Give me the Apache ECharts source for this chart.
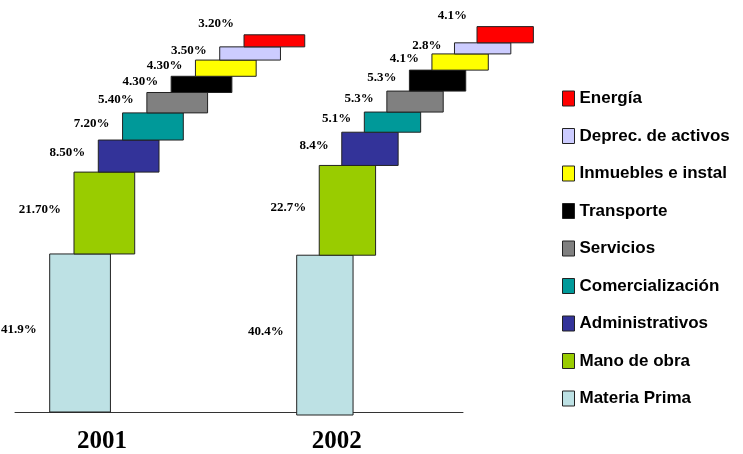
<!DOCTYPE html>
<html>
<head>
<meta charset="utf-8">
<script src="https://cdn.jsdelivr.net/npm/echarts@6/dist/echarts.min.js"></script>
<style>
  html, body { margin: 0; padding: 0; background: #ffffff; }
  #chart { width: 743px; height: 454px; }
</style>
</head>
<body>
<div id="chart"></div>
<script>
// Cost structure by item, share of total (%)
const categories = [
  'Materia Prima', 'Mano de obra', 'Administrativos', 'Comercialización',
  'Servicios', 'Transporte', 'Inmuebles e instal', 'Deprec. de activos', 'Energía'
];
const years = ['2001', '2002'];
const values2001 = [41.9, 21.7, 8.5, 7.2, 5.4, 4.3, 4.3, 3.5, 3.2];
const values2002 = [40.4, 22.7, 8.4, 5.1, 5.3, 5.3, 4.1, 2.8, 4.1];
// decimals shown in each value label
const decimals2001 = [1, 2, 2, 2, 2, 2, 2, 2, 2];
const decimals2002 = [1, 1, 1, 1, 1, 1, 1, 1, 1];

const colors = ['#BDE1E4', '#99CC00', '#333399', '#009999', '#808080',
                '#000000', '#FFFF00', '#CCCCFF', '#FF0000'];

const BLOCK_SPAN = 2.5;   // block width in step units (blocks overlap like stairs)
const LABEL_FONT = 'bold 13px "Liberation Serif", "Times New Roman", serif';

function makeRenderer(labelText, isTop) {
  return function (params, api) {
    const step = api.value(0), lo = api.value(1), hi = api.value(2);
    const a = api.coord([step, lo]);
    const b = api.coord([step + BLOCK_SPAN, hi]);
    const left = a[0], top = b[1], w = b[0] - a[0], h = a[1] - b[1];
    const color = api.visual('color');
    return {
      type: 'group',
      children: [
        {
          type: 'rect',
          shape: { x: left, y: top, width: w, height: h },
          style: { fill: color, stroke: '#222', lineWidth: 1 }
        },
        {
          type: 'text',
          x: isTop ? left - 10 : left - 13,
          y: isTop ? top - 11 : top + h / 2 - 3,
          style: {
            text: labelText, font: LABEL_FONT, fill: '#000',
            align: 'right', verticalAlign: 'middle'
          }
        }
      ]
    };
  };
}

function stairSeries(values, decimals, axisIndex) {
  let base = 0;
  return values.map(function (v, i) {
    const item = [i, base, base + v];
    base += v;
    return {
      type: 'custom',
      name: categories[i],
      xAxisIndex: axisIndex,
      yAxisIndex: axisIndex,
      itemStyle: { color: colors[i], borderColor: '#222', borderWidth: 1 },
      data: [item],
      renderItem: makeRenderer(v.toFixed(decimals[i]) + '%', i === values.length - 1),
      animation: false
    };
  });
}

const yearLabelStyle = {
  fontFamily: '"Liberation Serif", "Times New Roman", serif',
  fontWeight: 'bold',
  fontSize: 25,
  color: '#000'
};

const chart = echarts.init(document.getElementById('chart'), null, { renderer: 'canvas' });
chart.setOption({
  animation: false,
  backgroundColor: '#ffffff',
  grid: [
    { left: 15, width: 448, top: 34.8, height: 382.2 },
    { left: 274.16, width: 259.2, top: 19.5, height: 400.5 }
  ],
  xAxis: [
    {
      gridIndex: 0, type: 'value', min: -1.4286, max: 17.015,
      axisLine: { show: true, lineStyle: { color: '#333', width: 1 } },
      axisTick: { show: false }, splitLine: { show: false },
      axisLabel: Object.assign({
        customValues: [2.15], margin: 17,
        formatter: function () { return years[0]; }
      }, yearLabelStyle)
    },
    {
      gridIndex: 1, type: 'value', min: -1, max: 10.5,
      axisLine: { show: false }, axisTick: { show: false }, splitLine: { show: false },
      axisLabel: Object.assign({
        customValues: [1.775], margin: 14,
        formatter: function () { return years[1]; }
      }, yearLabelStyle)
    }
  ],
  yAxis: [
    { gridIndex: 0, type: 'value', min: 0, max: 100, show: false },
    { gridIndex: 1, type: 'value', min: 0, max: 100, show: false }
  ],
  legend: {
    orient: 'vertical',
    left: 557, top: 85,
    icon: 'rect',
    itemWidth: 12, itemHeight: 15, itemGap: 20.5,
    itemStyle: { borderColor: '#222', borderWidth: 1 },
    data: categories.slice().reverse(),
    textStyle: {
      fontFamily: '"Liberation Sans", Arial, sans-serif',
      fontWeight: 'bold', fontSize: 17, color: '#000'
    }
  },
  series: stairSeries(values2001, decimals2001, 0)
    .concat(stairSeries(values2002, decimals2002, 1))
});
</script>
</body>
</html>
